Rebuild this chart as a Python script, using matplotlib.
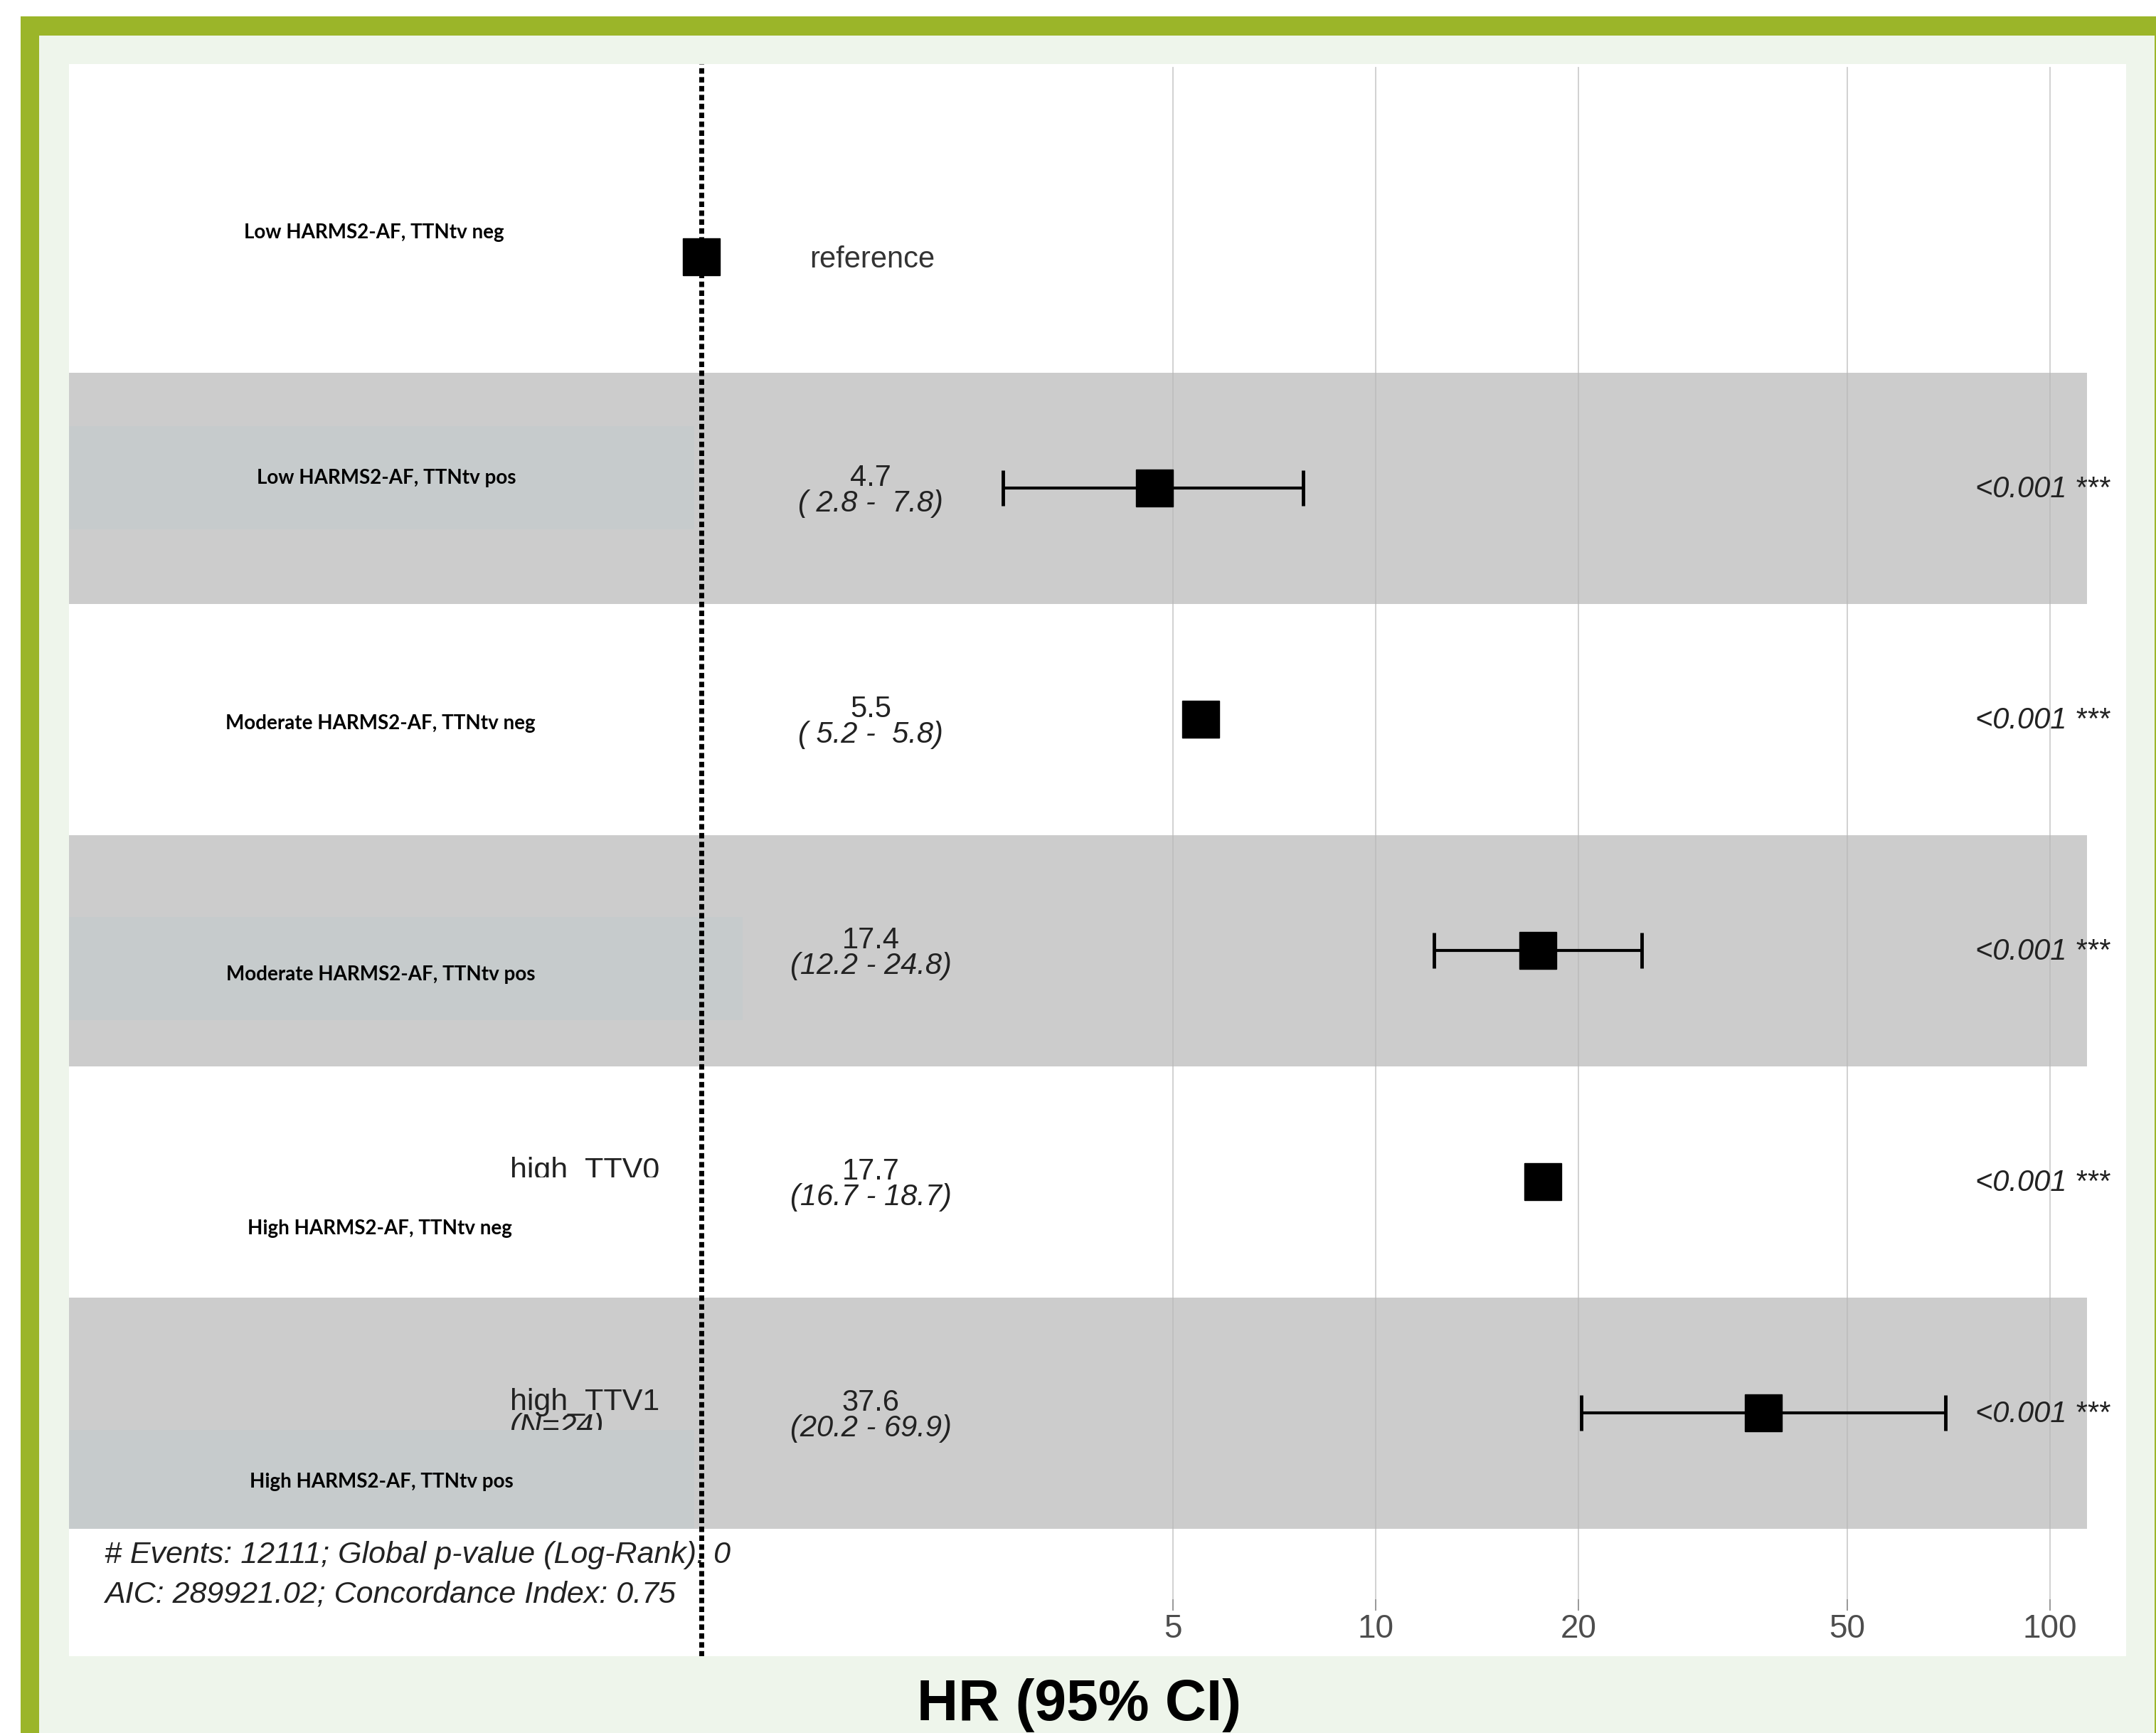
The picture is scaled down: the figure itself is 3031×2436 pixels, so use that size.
import numpy as np
import matplotlib
matplotlib.use("Agg")
import matplotlib.pyplot as plt
import matplotlib.transforms as mtransforms
from matplotlib.patches import Rectangle

# ---- data ----
groups = [
    "Low HARMS2-AF, TTNtv neg",
    "Low HARMS2-AF, TTNtv pos",
    "Moderate HARMS2-AF, TTNtv neg",
    "Moderate HARMS2-AF, TTNtv pos",
    "High HARMS2-AF, TTNtv neg",
    "High HARMS2-AF, TTNtv pos",
]
hr = [1.0, 4.7, 5.5, 17.4, 17.7, 37.6]
ci_low = [np.nan, 2.8, 5.2, 12.2, 16.7, 20.2]
ci_high = [np.nan, 7.8, 5.8, 24.8, 18.7, 69.9]
p_text = ["", "<0.001 ***", "<0.001 ***", "<0.001 ***", "<0.001 ***", "<0.001 ***"]
x_ticks = [5, 10, 20, 50, 100]
footer = [
    "# Events: 12111; Global p-value (Log-Rank): 0",
    "AIC: 289921.02; Concordance Index: 0.75",
]

W, H = 3031, 2436
PL, PR, PT, PB = 97, 2989, 90, 2328      # white panel in pixels
PW, PH = PR - PL, PB - PT


def fx(px):
    return (px - PL) / PW


def fy(py):
    return (PB - py) / PH


fig = plt.figure(figsize=(W / 100, H / 100), dpi=100)
fig.patch.set_facecolor("white")
fig.add_artist(Rectangle((29 / W, 0), 1, 1 - 23 / H, transform=fig.transFigure,
                         color="#9bb529", lw=0, zorder=-10))
fig.add_artist(Rectangle((55 / W, 0), (3029 - 55) / W, 1 - 50 / H, transform=fig.transFigure,
                         color="#eef5eb", lw=0, zorder=-9))

ax = fig.add_axes([PL / W, 1 - PB / H, PW / W, PH / H])
ax.set_facecolor("white")
ax.set_xscale("log")
ax.set_xlim(0.1154, 129.7)
ax.set_ylim(7.052, 0.166)
ax.tick_params(which="both", bottom=False, labelbottom=False, left=False, labelleft=False)
for s in ax.spines.values():
    s.set_visible(False)

rows = np.arange(1, len(groups) + 1)
mix = mtransforms.blended_transform_factory(ax.transAxes, ax.transData)

# alternating grey bands
for r in rows:
    if r % 2 == 0:
        ax.axhspan(r - 0.5, r + 0.5, xmin=0, xmax=fx(2934), color="#cccccc", lw=0, zorder=0.5)

# grid lines, ticks, tick labels
for t in x_ticks:
    ax.axvline(t, ymin=fy(2263), ymax=fy(95), color="#b8b8b8", lw=1.3, alpha=0.7, zorder=1)
    ax.axvline(t, ymin=fy(2263), ymax=fy(2249), color="#999999", lw=1.4, zorder=1)
    ax.text(t, fy(2290), str(t), transform=ax.get_xaxis_transform(), ha="center", va="center",
            fontsize=33, color="#4d4d4d", family="Liberation Sans")

# leftover original variable names (partly covered)
ax.text(fx(717), 5 - 0.045, "high_TTV0", transform=mix, ha="left", va="center",
        fontsize=31, color="#222222", family="Liberation Sans", zorder=1.5)
ax.text(fx(717), 6 - 0.045, "high_TTV1", transform=mix, ha="left", va="center",
        fontsize=31, color="#222222", family="Liberation Sans", zorder=1.5)
ax.text(fx(717), 6 + 0.062, "(N=24)", transform=mix, ha="left", va="center", style="italic",
        fontsize=31, color="#222222", family="Liberation Sans", zorder=1.5)

# pasted label boxes
ax.add_patch(Rectangle((0, 1.732), fx(976), 0.446, transform=mix, color="#c6cbcc", lw=0, zorder=2))
ax.add_patch(Rectangle((0, 3.855), fx(1044), 0.447, transform=mix, color="#c6cbcc", lw=0, zorder=2))
ax.add_patch(Rectangle((0, 6.074), fx(976), 0.426, transform=mix, color="#c6cbcc", lw=0, zorder=2))
ax.add_patch(Rectangle((0, 4.982), fx(976), 0.45, transform=mix, color="white", lw=0, zorder=2))

# group labels
label_x = [526, 543, 535, 535, 534, 536]
label_dy = [-0.105, -0.042, 0.017, 0.105, 0.202, 0.298]
for r, name, lx, dy in zip(rows, groups, label_x, label_dy):
    ax.text(fx(lx), r + dy, name, transform=mix, ha="center", va="center",
            fontsize=20, fontweight="bold", family="Lato", color="black", zorder=3)

# reference line at HR = 1
ax.axvline(1, color="black", lw=5, linestyle=(0, (1.1, 0.7)), zorder=4)

# HR column and p-values
for r, h, lo, hi, p in zip(rows, hr, ci_low, ci_high, p_text):
    if np.isnan(lo):
        ax.text(fx(1226), r + 0.012, "reference", transform=mix, ha="center", va="center",
                fontsize=30, color="#333333", family="Liberation Sans", zorder=3)
        continue
    ax.text(fx(1224), r - 0.042, f"{h:.1f}", transform=mix, ha="center", va="center",
            fontsize=30, color="#222222", family="Liberation Sans", zorder=3)
    ax.text(fx(1224), r + 0.066, f"({lo:4.1f} - {hi:4.1f})", transform=mix, ha="center",
            va="center", style="italic", fontsize=30, color="#222222",
            family="Liberation Sans", zorder=3)
    ax.text(fx(2777), r + 0.006, p, transform=mix, ha="left", va="center", style="italic",
            fontsize=30, color="#222222", family="Liberation Sans", zorder=3)

# confidence intervals and point estimates
hr_a = np.array(hr)
lo_a = np.array(ci_low)
hi_a = np.array(ci_high)
ok = ~np.isnan(lo_a)
ax.errorbar(hr_a[ok], rows[ok], xerr=[hr_a[ok] - lo_a[ok], hi_a[ok] - hr_a[ok]], fmt="none",
            ecolor="black", elinewidth=3, capsize=18, capthick=3.5, zorder=5)
ax.plot(hr, rows, "s", ms=37, color="black", zorder=6)

# footer
for i, line in enumerate(footer):
    ax.text(fx(147), fy(2186 + 55 * i), line, transform=ax.transAxes, ha="left", va="center",
            style="italic", fontsize=31, color="#222222", family="Liberation Sans", zorder=3)

fig.text(1517 / W, 1 - 2397 / H, "HR (95% CI)", ha="center", va="center", fontsize=58,
         fontweight="bold", family="Liberation Sans")

fig.savefig("out.png", dpi=100)
